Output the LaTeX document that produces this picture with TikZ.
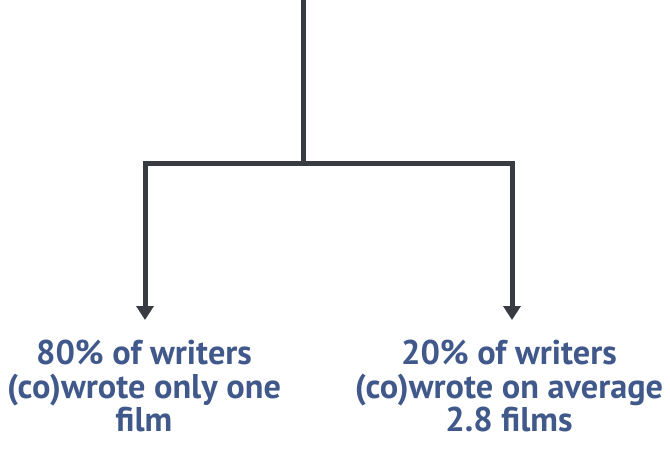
\documentclass[tikz,border=0pt]{standalone}
\usepackage{fontspec}
\setmainfont{PT Sans}
\usetikzlibrary{arrows.meta}
\definecolor{linecol}{HTML}{383B42}
\definecolor{txtcol}{HTML}{40598A}
\tikzset{
  conn/.style={draw=linecol, line width=5pt},
  arr/.style={conn, -{Triangle[width=17pt,length=14pt]}},
  label/.style={text=txtcol, font=\bfseries\fontsize{34.3}{33.5}\selectfont, align=center, inner sep=0pt}
}
\begin{document}
\begin{tikzpicture}[x=1pt,y=-1pt]
\useasboundingbox (0,0) rectangle (670,450);
\coordinate (top) at (303,0);
\coordinate (mid) at (303,163);
\coordinate (lc) at (145,163);
\coordinate (rc) at (512,163);
\coordinate (lt) at (145,320);
\coordinate (rt) at (512,320);
\node[label] (left) at (144,386) {80\% of writers\\(co)wrote only one\\film};
\node[label] (right) at (509,386) {20\% of writers\\(co)wrote on average\\2.8 films};
\draw[conn] (top) -- (mid);
\draw[arr] (mid) -- (lc) -- (lt);
\draw[arr] (mid) -- (rc) -- (rt);
\end{tikzpicture}
\end{document}
